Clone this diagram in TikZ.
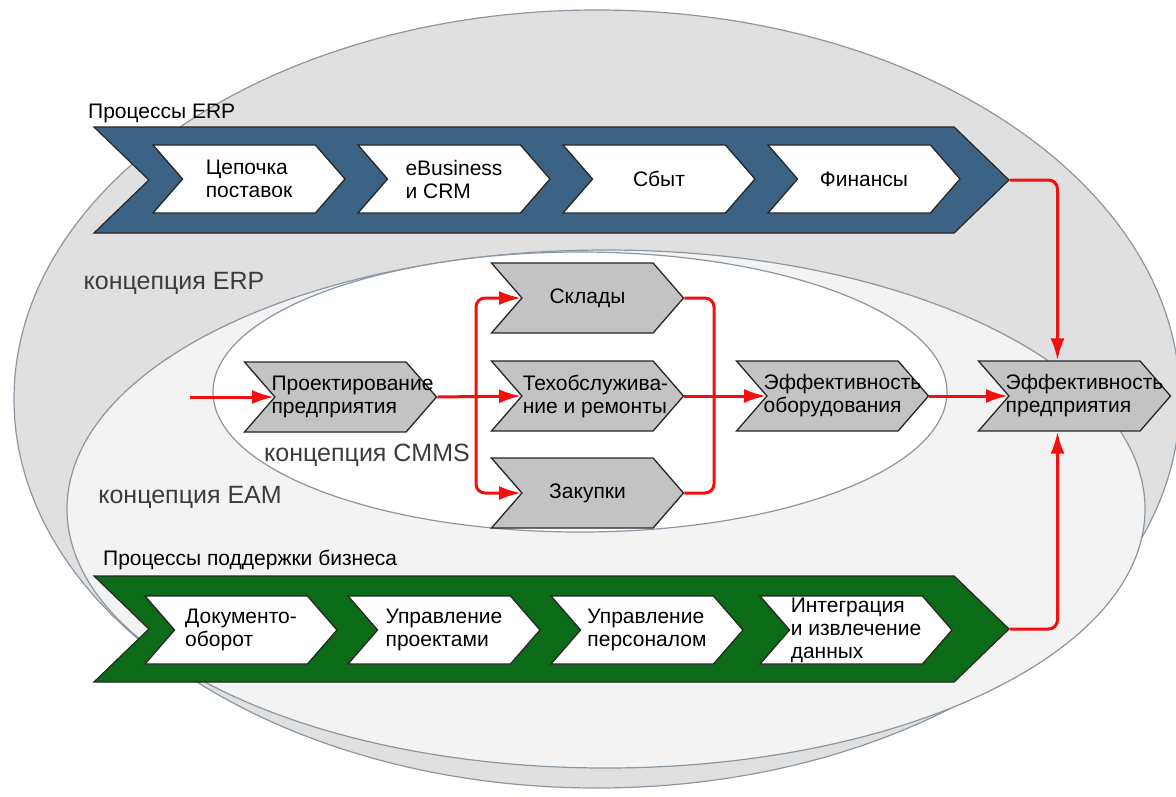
\documentclass[tikz,border=0pt]{standalone}
\usepackage{fontspec}
\setmainfont{Liberation Sans}
\usetikzlibrary{shapes.symbols,arrows.meta}
\definecolor{erpblue}{HTML}{3D6384}
\definecolor{bizgreen}{HTML}{0B6B17}
\definecolor{ovalline}{HTML}{8A97A3}
\definecolor{ovalerp}{HTML}{E0E0E0}
\definecolor{ovaleam}{HTML}{F3F3F3}
\definecolor{chevgray}{HTML}{C3C3C3}
\definecolor{concept}{HTML}{3C3C3C}
\definecolor{flowred}{HTML}{F40F0F}
\begin{document}
\begin{tikzpicture}[x=1pt,y=-1pt,
				band/.style={signal,signal from=west,signal to=east,signal pointer angle=88,
					minimum width=915pt,minimum height=106pt,inner sep=0pt,draw=black!85,line width=1.2pt},
				wchev/.style={signal,signal from=west,signal to=east,signal pointer angle=98,
					minimum width=192pt,minimum height=68pt,inner sep=0pt,fill=white,draw=black!85,line width=1.3pt},
				gchev/.style={wchev,fill=chevgray,minimum height=70pt},
				txt/.style={font=\fontsize{21}{23}\selectfont,align=left,inner sep=0pt},
				title/.style={font=\fontsize{21}{24}\selectfont,anchor=west,inner sep=0pt},
				concept/.style={font=\fontsize{25}{28}\selectfont,text=concept,inner sep=0pt},
				oval/.style={draw=ovalline,line width=1.2pt},
				flow/.style={draw=flowred,line width=3pt,rounded corners=9pt,-{Latex[length=22pt,width=14pt]}}]
\useasboundingbox[fill=white] (0,0) rectangle (1176,796);
\filldraw[oval,fill=ovalerp] (597,399) ellipse [x radius=583,y radius=389];
\filldraw[oval,fill=ovaleam] (606,509) ellipse [x radius=539,y radius=259];
\filldraw[oval,fill=white] (580,392) ellipse [x radius=367,y radius=140];
\node[concept] (c-erp) at (174,283) {концепция ERP};
\node[concept] (c-cmms) at (367,455) {концепция CMMS};
\node[concept] (c-eam) at (190,497) {концепция EAM};
\node[title] (t-erp) at (88,113) {Процессы ERP};
\node[band,fill=erpblue] (erp) at (551.5,180) {};
\node[wchev] (sc) at (249,179) {};
\node[txt] (sc-t) at (sc) {Цепочка\\поставок};
\node[wchev] (eb) at (454,179) {};
\node[txt] (eb-t) at (eb) {eBusiness\\и CRM};
\node[wchev] (sb) at (659,179) {};
\node[txt] (sb-t) at (sb) {Сбыт};
\node[wchev] (fn) at (864,179) {};
\node[txt] (fn-t) at (fn) {Финансы};
\node[title] (t-bus) at (103,560) {Процессы поддержки бизнеса};
\node[band,fill=bizgreen] (bus) at (551.5,629) {};
\node[wchev] (dc) at (241,630) {};
\node[txt] (dc-t) at (dc) {Документо-\\оборот};
\node[wchev] (up) at (444,630) {};
\node[txt] (up-t) at (up) {Управление\\проектами};
\node[wchev] (uh) at (647,630) {};
\node[txt] (uh-t) at (uh) {Управление\\персоналом};
\node[wchev] (ig) at (856,630) {};
\node[txt] (ig-t) at (ig) {Интеграция\\и извлечение\\данных};
\node[gchev] (pp) at (340.5,397) {};
\node[txt,xshift=12pt] (pp-t) at (pp) {Проектирование\\предприятия};
\node[gchev] (sk) at (587.5,298) {};
\node[txt] (sk-t) at (sk) {Склады};
\node[gchev] (to) at (587.5,396) {};
\node[txt,xshift=8pt] (to-t) at (to) {Техобслужива-\\ние и ремонты};
\node[gchev] (zk) at (587.5,493) {};
\node[txt] (zk-t) at (zk) {Закупки};
\node[gchev] (eo) at (832.5,396) {};
\node[txt,xshift=10pt] (eo-t) at (eo) {Эффективность\\оборудования};
\node[gchev] (ep) at (1074.5,396) {};
\node[txt,xshift=10pt] (ep-t) at (ep) {Эффективность\\предприятия};
\coordinate (in) at (190,397);
\coordinate (split) at (476,397);
\coordinate (join) at (714,396);
\draw[flow] (in) -- (pp.west);
\draw[flow] (pp.east) -- (to.west);
\draw[flow] (split) |- (sk.west);
\draw[flow] (split) |- (zk.west);
\draw[flow,-] (sk.east) -| (join);
\draw[flow,-] (zk.east) -| (join);
\draw[flow] (to.east) -- (eo.west);
\draw[flow] (eo.east) -- (ep.west);
\draw[flow] (erp.east) -| ([xshift=-17pt]ep.north);
\draw[flow] (bus.east) -| ([xshift=-17pt]ep.south);
\end{tikzpicture}
\end{document}
